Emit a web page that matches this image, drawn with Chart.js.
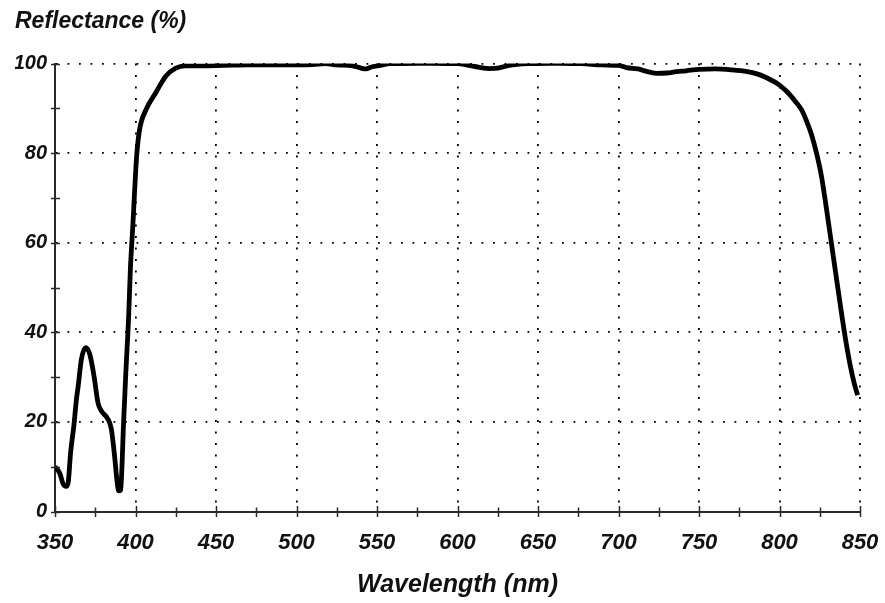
<!DOCTYPE html>
<html>
<head>
<meta charset="utf-8">
<style>
  html, body { margin: 0; padding: 0; background: #fff; }
  #wrap { width: 885px; height: 603px; position: relative; }
</style>
<script src="https://cdn.jsdelivr.net/npm/chart.js@4.4.1/dist/chart.umd.min.js"></script>
</head>
<body>
<div id="wrap"><canvas id="c" width="885" height="603"></canvas></div>
<script>
// ---- data ----
const wavelengths = [
  350, 353, 355, 357, 358.2, 359.7, 361.7, 363.3, 364.4, 366.4, 369.1, 371.6, 374.2, 376.7, 378.7,
  382.9, 385, 387, 388.4, 389.6, 390.8, 391.7, 392.5, 394, 395.8, 396.8, 398.3, 399.3, 400.7, 402.4,
  406.5, 412.6, 418.8, 425, 431, 440, 455, 470, 490, 510, 518, 525, 535, 540, 543, 547, 552, 558,
  580, 600, 607, 613, 620, 625, 632, 645, 660, 677, 690, 700, 705, 712, 718, 724, 730, 736, 742,
  750, 760, 770, 780, 786, 791, 796, 800, 805, 810, 814, 817, 820, 823, 826, 829, 832, 835, 838,
  841, 844, 846.5, 848.5
];
const reflectance = [
  10, 8.5, 6.2, 5.6, 6.5, 13.2, 19.1, 25, 28, 34, 36.6, 35.1, 30.3, 24.3, 22.5,
  20.6, 18.4, 12.4, 7.2, 4.6, 4.8, 11, 19, 31, 44, 54, 63.5, 70.5, 79.3, 85,
  89.7, 93.5, 97.2, 99, 99.5, 99.5, 99.6, 99.7, 99.7, 99.8, 100, 99.7, 99.5, 99, 98.8, 99.3, 99.6, 100,
  100.1, 100, 99.6, 99.2, 98.9, 99, 99.6, 100, 100.1, 100, 99.7, 99.6, 99.1, 98.8, 98.2, 97.8, 97.9, 98.2, 98.4,
  98.7, 98.8, 98.6, 98.2, 97.7, 97, 96.1, 95.2, 93.6, 91.5, 89.5, 87, 84, 80, 75, 68, 60.5, 53, 45.5,
  38.5, 32.5, 28.5, 26
];
const xTickValues = [350, 400, 450, 500, 550, 600, 650, 700, 750, 800, 850];
const yTickValues = [0, 20, 40, 60, 80, 100];
const titleText = 'Reflectance (%)';
const xTitleText = 'Wavelength (nm)';

const points = wavelengths.map((w, i) => ({ x: w, y: reflectance[i] }));

const FONT = "'Liberation Sans', Arial, sans-serif";
const AXIS_COLOR = '#2a2a2a';

// draws the axis tick marks crossing the axes (major + minor), using the scales
const crossTicks = {
  id: 'crossTicks',
  afterDraw(chart) {
    const ctx = chart.ctx;
    const xs = chart.scales.x, ys = chart.scales.y;
    const ca = chart.chartArea;
    ctx.save();
    ctx.strokeStyle = AXIS_COLOR;
    ctx.lineWidth = 1.5;
    ctx.beginPath();
    xs.ticks.forEach(t => {
      const px = Math.round(xs.getPixelForValue(t.value)) + 0.5;
      const major = xTickValues.includes(t.value);
      ctx.moveTo(px, ca.bottom - (major ? 5.5 : 4));
      ctx.lineTo(px, ca.bottom + 5.5);
    });
    ys.ticks.forEach(t => {
      const py = Math.round(ys.getPixelForValue(t.value)) + 0.5;
      ctx.moveTo(ca.left - 4, py);
      ctx.lineTo(ca.left + 5, py);
    });
    ctx.stroke();
    ctx.restore();
  }
};

new Chart(document.getElementById('c'), {
  type: 'line',
  data: {
    datasets: [{
      data: points,
      borderColor: '#000',
      borderWidth: 4.8,
      pointRadius: 0,
      cubicInterpolationMode: 'monotone',
      fill: false
    }]
  },
  options: {
    responsive: false,
    animation: false,
    devicePixelRatio: 1,
    layout: { padding: { left: 15, right: 25, top: 0, bottom: 0 } },
    plugins: {
      legend: { display: false },
      tooltip: { enabled: false },
      title: {
        display: true,
        text: titleText,
        align: 'start',
        color: '#111',
        font: { family: FONT, size: 23, weight: 'bold', style: 'italic', lineHeight: 1.2 },
        padding: { top: 8, bottom: 28 }
      }
    },
    scales: {
      x: {
        type: 'linear',
        min: 350,
        max: 850,
        afterFit(s) { s.height = 91.5; s.paddingLeft = 0; s.paddingRight = 0; },
        ticks: {
          stepSize: 25,
          autoSkip: false,
          maxRotation: 0,
          padding: 18,
          color: '#111',
          font: { family: FONT, size: 22, weight: 'bold', style: 'italic' },
          callback: v => xTickValues.includes(v) ? String(v) : ''
        },
        grid: {
          drawTicks: false,
          lineWidth: 1.8,
          color: c => (c.tick && xTickValues.includes(c.tick.value) && c.tick.value !== 350) ? '#000' : 'rgba(0,0,0,0)'
        },
        border: { display: true, color: AXIS_COLOR, width: 2, dash: [1.8, 9.7] },
        title: {
          display: true,
          text: xTitleText,
          color: '#111',
          font: { family: FONT, size: 25, weight: 'bold', style: 'italic', lineHeight: 1.2 },
          padding: { top: 0, bottom: 3 }
        }
      },
      y: {
        min: 0,
        max: 100,
        afterFit(s) { s.width = 40; },
        ticks: {
          stepSize: 10,
          autoSkip: false,
          padding: 8,
          color: '#111',
          font: { family: FONT, size: 20, weight: 'bold', style: 'italic' },
          callback: v => yTickValues.includes(v) ? String(v) : ''
        },
        grid: {
          drawTicks: false,
          lineWidth: 1.8,
          color: c => (c.tick && yTickValues.includes(c.tick.value) && c.tick.value !== 0) ? '#000' : 'rgba(0,0,0,0)'
        },
        border: { display: true, color: AXIS_COLOR, width: 2, dash: [1.8, 9.7] }
      }
    }
  },
  plugins: [crossTicks]
});
</script>
</body>
</html>
